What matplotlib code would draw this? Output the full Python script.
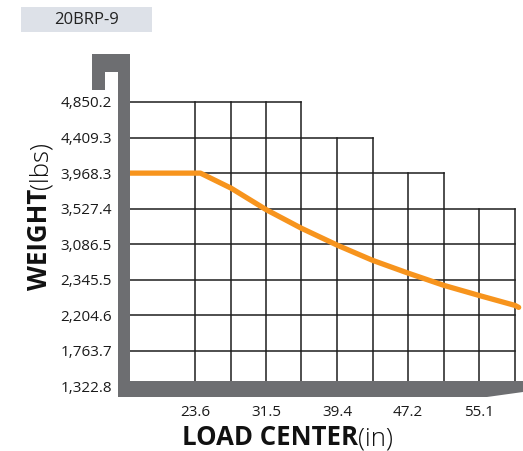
import matplotlib
matplotlib.use("Agg")
import matplotlib.pyplot as plt
from matplotlib.patches import Polygon, Rectangle

plt.rcParams['font.family'] = ['Open Sans', 'DejaVu Sans']

# ---- data ----
title = "20BRP-9"
y_ticks = [1322.8, 1763.7, 2204.6, 2645.5, 3086.5, 3527.4, 3968.3, 4409.3, 4850.2]
y_labels = ["1,322.8", "1,763.7", "2,204.6", "2,345.5", "3,086.5", "3,527.4",
            "3,968.3", "4,409.3", "4,850.2"]
x_ticks = [23.6, 31.5, 39.4, 47.2, 55.1]
x_labels = ["23.6", "31.5", "39.4", "47.2", "55.1"]
grid_x = [23.6, 27.6, 31.5, 35.4, 39.4, 43.3, 47.2, 51.2, 55.1, 59.1]
grid_top = [4850.2, 4850.2, 4850.2, 4850.2, 4409.3, 4409.3, 3968.3, 3968.3, 3527.4, 3527.4]
curve_x = [16.4, 24.2, 27.6, 31.5, 35.4, 39.4, 43.3, 47.2, 51.2, 55.1, 59.1, 59.5]
curve_y = [3968.3, 3968.3, 3782, 3515, 3285, 3074, 2887, 2730, 2577, 2452, 2328, 2304]

W, H = 523, 451
fig = plt.figure(figsize=(W / 100, H / 100), dpi=100)

def px_rect(l, t, r, b):
    return [l / W, 1 - b / H, (r - l) / W, (b - t) / H]

ax = fig.add_axes(px_rect(130, 54, 523, 397))
ax.set_xlim(16.39, 59.98)
ax.set_ylim(1193, 5445)
for s in ax.spines.values():
    s.set_visible(False)
ax.set_facecolor('none')

grid_color = '#1e1e1e'
# vertical grid lines
for gx, gt in zip(grid_x, grid_top):
    ax.plot([gx, gx], [y_ticks[0], gt], color=grid_color, lw=1.1, zorder=1,
            solid_capstyle='projecting')
# horizontal grid lines
for yv in y_ticks:
    right = max(gx for gx, gt in zip(grid_x, grid_top) if gt >= yv - 1e-6)
    ax.plot([ax.get_xlim()[0], right], [yv, yv], color=grid_color, lw=1.1, zorder=1,
            solid_capstyle='projecting')

ax.plot(curve_x, curve_y, color='#F7941D', lw=3.8, zorder=3,
        solid_capstyle='round', solid_joinstyle='round', clip_on=False)

ax.set_yticks(y_ticks)
ax.set_yticklabels(y_labels)
ax.set_xticks(x_ticks)
ax.set_xticklabels(x_labels)
ax.tick_params(axis='y', length=0, pad=13, labelsize=11, labelcolor='#1a1a1a')
ax.tick_params(axis='x', length=0, pad=6, labelsize=11, labelcolor='#1a1a1a')

# ---- overlay for frame and title ----
ov = fig.add_axes([0, 0, 1, 1], zorder=5)
ov.set_xlim(0, W)
ov.set_ylim(H, 0)
ov.axis('off')
ov.patch.set_alpha(0)

frame_color = '#6d6e71'
pts = [(92, 54), (130, 54), (130, 381), (523, 381), (523, 392), (487, 397),
       (118, 397), (118, 72), (105, 72), (105, 90), (92, 90)]
ov.add_patch(Polygon(pts, closed=True, facecolor=frame_color, edgecolor='none'))

ov.add_patch(Rectangle((21, 7), 131, 25, facecolor='#dde1e8', edgecolor='none'))
ov.text(86.5, 20, title, ha='center', va='center', fontsize=12, color='#222222')

# x label
t1 = ov.text(182, 445, "LOAD CENTER", ha='left', va='baseline', fontsize=18.5,
             fontweight='bold', color='#111111')
ov.annotate("(in)", xy=(1, 0), xycoords=t1, ha='left', va='bottom',
            fontsize=18.5, fontweight='light', color='#111111',
            annotation_clip=False)

# y label
t2 = ov.text(47, 290, "WEIGHT", rotation=90, rotation_mode='anchor', ha='left',
             va='baseline', fontsize=18.5, fontweight='bold', color='#111111')
ov.annotate("(lbs)", xy=(1, 1), xycoords=t2, rotation=90, rotation_mode='anchor',
            ha='left', va='bottom', fontsize=18.5, fontweight='light',
            color='#111111', annotation_clip=False)

fig.savefig("out.png", dpi=100)
